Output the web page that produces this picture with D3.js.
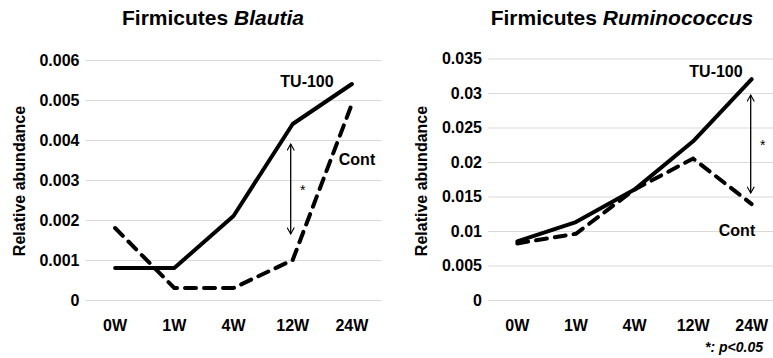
<!DOCTYPE html>
<html>
<head>
<meta charset="utf-8">
<script src="https://cdn.jsdelivr.net/npm/d3@7"></script>
<style>
  body { margin: 0; background: #fff; }
  text { font-family: Arial, "Liberation Sans", sans-serif; font-weight: bold; fill: #000; }
</style>
</head>
<body>
<script>
// categories (weeks)
var weeks = ["0W", "1W", "4W", "12W", "24W"];

// Blautia values
var blautiaTU = [0.0008, 0.0008, 0.0021, 0.0044, 0.0054];
var blautiaCont = [0.0018, 0.0003, 0.0003, 0.0010, 0.0049];
var blautiaTicks = [0, 0.001, 0.002, 0.003, 0.004, 0.005, 0.006];
var blautiaTickLabels = ["0", "0.001", "0.002", "0.003", "0.004", "0.005", "0.006"];
var blautiaArrow = { week: "12W", from: 0.0039, to: 0.00165 };

// Ruminococcus values
var rumiTU = [0.0085, 0.0113, 0.016, 0.023, 0.032];
var rumiCont = [0.0082, 0.0096, 0.016, 0.0205, 0.0139];
var rumiTicks = [0, 0.005, 0.01, 0.015, 0.02, 0.025, 0.03, 0.035];
var rumiTickLabels = ["0", "0.005", "0.01", "0.015", "0.02", "0.025", "0.03", "0.035"];
var rumiArrow = { week: "24W", from: 0.0297, to: 0.0155 };

var svg = d3.select("body").append("svg")
    .attr("width", 773)
    .attr("height", 358);

// open arrow head
var defs = svg.append("defs");
defs.append("marker")
    .attr("id", "arrowhead")
    .attr("viewBox", "0 0 10 10")
    .attr("refX", 9)
    .attr("refY", 5)
    .attr("markerWidth", 8)
    .attr("markerHeight", 8)
    .attr("markerUnits", "userSpaceOnUse")
    .attr("orient", "auto-start-reverse")
    .append("path")
    .attr("d", "M1,0.5 L9,5 L1,9.5")
    .attr("fill", "none")
    .attr("stroke", "#000")
    .attr("stroke-width", 1.4);

function drawPanel(p) {
    var x = d3.scaleBand().domain(weeks).range([p.left, p.right]);
    var y = d3.scaleLinear().domain([0, p.max]).range([300, p.top]);
    var cx = function (w) { return x(w) + x.bandwidth() / 2; };

    // gridlines
    svg.append("g")
        .attr("transform", "translate(" + p.left + ",0)")
        .call(d3.axisLeft(y).tickValues(p.ticks).tickSize(-(p.right - p.left)).tickFormat(""))
        .call(function (g) { g.select(".domain").remove(); })
        .selectAll("line")
        .attr("stroke", "#d9d9d9")
        .attr("stroke-width", 1);

    // y tick labels
    svg.append("g")
        .selectAll("text")
        .data(p.ticks)
        .enter().append("text")
        .attr("x", p.left - 6)
        .attr("y", function (d) { return y(d); })
        .attr("dy", "0.35em")
        .attr("text-anchor", "end")
        .style("font-size", "16px")
        .text(function (d, i) { return p.tickLabels[i]; });

    // x tick labels
    svg.append("g")
        .selectAll("text")
        .data(weeks)
        .enter().append("text")
        .attr("x", function (d) { return cx(d); })
        .attr("y", 331)
        .attr("text-anchor", "middle")
        .style("font-size", "16px")
        .text(function (d) { return d; });

    // y axis label
    svg.append("text")
        .attr("transform", "translate(" + p.ylabelX + ",181) rotate(-90)")
        .attr("text-anchor", "middle")
        .attr("dy", "0.35em")
        .style("font-size", "16px")
        .text("Relative abundance");

    // title
    var title = svg.append("text")
        .attr("x", p.titleX)
        .attr("y", 25)
        .attr("text-anchor", "middle")
        .style("font-size", "21px");
    title.append("tspan").text("Firmicutes ");
    title.append("tspan").style("font-style", "italic").text(p.genus);

    var line = d3.line()
        .x(function (d, i) { return cx(weeks[i]); })
        .y(function (d) { return y(d); });

    // TU-100 solid
    svg.append("path")
        .datum(p.tu)
        .attr("d", line)
        .attr("fill", "none")
        .attr("stroke", "#000")
        .attr("stroke-width", 4)
        .attr("stroke-linecap", "round")
        .attr("stroke-linejoin", "round");

    // Cont dashed
    svg.append("path")
        .datum(p.cont)
        .attr("d", line)
        .attr("fill", "none")
        .attr("stroke", "#000")
        .attr("stroke-width", 4)
        .attr("stroke-linecap", "round")
        .attr("stroke-dasharray", "11,8");

    // significance arrow
    var ax = cx(p.arrow.week) + p.arrowDx;
    svg.append("line")
        .attr("x1", ax).attr("x2", ax)
        .attr("y1", y(p.arrow.from)).attr("y2", y(p.arrow.to))
        .attr("stroke", "#000")
        .attr("stroke-width", 1.3)
        .attr("marker-start", "url(#arrowhead)")
        .attr("marker-end", "url(#arrowhead)");
    svg.append("text")
        .attr("x", ax + p.starDx)
        .attr("y", y((p.arrow.from + p.arrow.to) / 2) + 6)
        .attr("text-anchor", "middle")
        .style("font-size", "14px")
        .style("font-weight", "normal")
        .text("*");

    // series labels
    svg.append("text")
        .attr("x", p.tuLabel[0]).attr("y", p.tuLabel[1])
        .attr("text-anchor", "middle")
        .style("font-size", "16px")
        .text("TU-100");
    svg.append("text")
        .attr("x", p.contLabel[0]).attr("y", p.contLabel[1])
        .attr("text-anchor", "middle")
        .style("font-size", "16px")
        .text("Cont");
}

drawPanel({
    left: 85.5, right: 381.5, top: 60, max: 0.006,
    ticks: blautiaTicks, tickLabels: blautiaTickLabels,
    tu: blautiaTU, cont: blautiaCont, genus: "Blautia",
    titleX: 213, ylabelX: 19,
    arrow: blautiaArrow, arrowDx: -2, starDx: 12,
    tuLabel: [307, 87], contLabel: [357, 165]
});

drawPanel({
    left: 488, right: 781, top: 58.5, max: 0.035,
    ticks: rumiTicks, tickLabels: rumiTickLabels,
    tu: rumiTU, cont: rumiCont, genus: "Ruminococcus",
    titleX: 622, ylabelX: 421,
    arrow: rumiArrow, arrowDx: -1, starDx: 12,
    tuLabel: [716, 77], contLabel: [737, 236]
});

// p-value note
svg.append("text")
    .attr("x", 763)
    .attr("y", 352)
    .attr("text-anchor", "end")
    .style("font-size", "14px")
    .style("font-style", "italic")
    .text("*: p<0.05");
</script>
</body>
</html>
